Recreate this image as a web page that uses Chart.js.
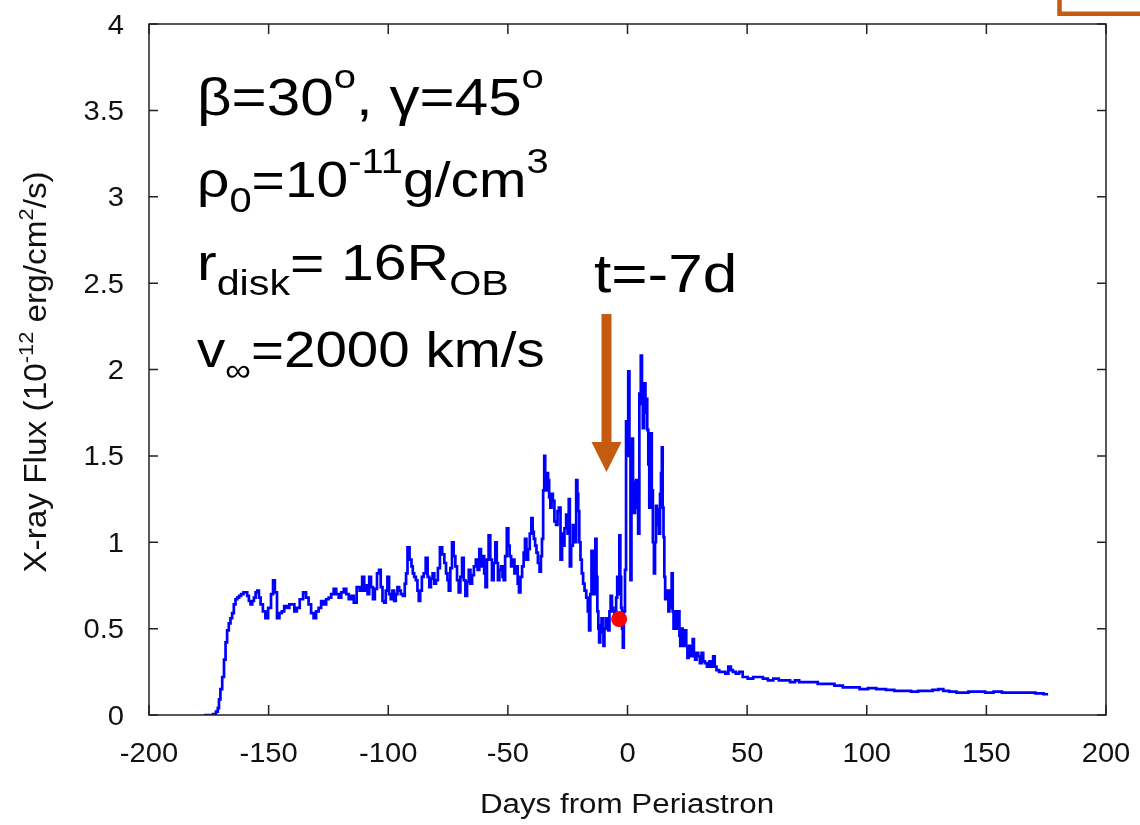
<!DOCTYPE html>
<html lang="en">
<head>
<meta charset="UTF-8">
<title>X-ray Flux vs Days from Periastron</title>
<script src="https://cdn.jsdelivr.net/npm/chart.js@4.4.0/dist/chart.umd.min.js"></script>
<style>
    body { margin: 0; background: #fff; }
    #wrap { width: 1140px; height: 825px; }
</style>
</head>
<body>
<div id="wrap"><canvas id="fluxChart"></canvas></div>
<script>
// light curve (days, flux in 1e-12 erg/cm2/s)
const days = [
  -177, -174, -172.5, -171.5, -171, -170.5, -169.8, -169, -168.3, -167.7, -167, -166.3, -165.6, -164.9,
  -164.2, -163.5, -162.7, -162, -161, -160, -159.3, -158.6, -157.9, -157.2, -156.5, -155.8, -155.1,
  -154.4, -153.7, -153, -151.8, -150.9, -149.5, -148.5, -147.8, -147, -146, -145, -144, -143, -141.9, -140.8, -139.8,
  -138.7, -137.7, -136.3, -134.9, -133.8, -132.8, -131.7, -130.7, -129.6, -128.6, -127.5, -126.5, -125.4,
  -124.4, -123.3, -122.3, -121.2, -120.2, -119.1, -118.1, -117, -116, -114.9, -113.9, -112.5, -111.4,
  -110.4, -109.7, -109, -108.3, -107.6, -106.8, -106, -105.2, -104.2, -103.5, -102.8, -102, -101.4, -100.7,
  -100, -99.3, -98.6, -97.9, -97.2, -96.5, -95.8, -95.1, -94.4, -93.4, -92.8, -92.3, -91.6, -90.6, -90,
  -89.5, -88.8, -88.1, -87.5, -87, -86.3, -85.6, -84.8, -83.9, -83.2, -82.5, -81.8, -81.1, -80.4, -79.7,
  -78.8, -78, -76.9, -76.2, -75.5, -75, -74.4, -73.7, -73, -72.3, -71.6, -70.9, -70.2, -69.5, -68.8, -68.1,
  -67.4, -66.7, -66, -65.3, -64.6, -63.8, -63, -62.3, -61.6, -60.9, -60.2, -59.6, -59.1, -58.4, -57.7, -57,
  -56.3, -55.6, -54.9, -54.4, -53.9, -53.2, -52.5, -52, -51.5, -50.8, -50.1, -49.5, -49, -48.3, -47.6, -46.9,
  -46.2, -45.6, -45.1, -44.4, -43.7, -43.1, -42.6, -41.9, -41.2, -40.5, -39.9, -39.4, -38.9, -38.3, -37.8,
  -37.1, -36.4, -36, -35.5, -35, -34.6, -34.2, -33.9, -33.4, -33, -32.5, -32, -31.5, -30.9, -30.2, -29.5,
  -29, -28.4, -27.6, -27.1, -26.7, -26, -25.3, -24.8, -24.3, -23.9, -23.2, -22.5, -21.8, -21.1, -20.8,
  -20.4, -19.9, -19.4, -18.8, -18.3, -17.6, -16.9, -16.3, -15.8, -15.3, -14.8, -14.3, -13.8, -13.1, -12.8,
  -12.4, -12, -11.7, -11.1, -10.6, -10.2, -9.9, -9.4, -8.9, -8.3, -7.8, -7.3, -6.8, -6.2, -5.7, -5.3, -5,
  -4.5, -4.1, -3.6, -3.2, -2.8, -2.5, -2.1, -1.8, -1.3, -0.8, -0.4, 0, 0.6, 1.0, 1.5, 1.8, 2.1, 2.5, 2.9,
  3.4, 3.8, 4.2, 4.7, 5.2, 5.9, 6.2, 6.6, 7.3, 7.7, 8.0, 8.5, 8.9, 9.3, 9.9, 10.4, 10.8, 11.3, 11.7, 12.1,
  12.5, 12.9, 13.4, 13.8, 14.2, 14.5, 14.9, 15.2, 15.6, 15.9, 16.4, 16.9, 17.3, 17.7, 18.2, 18.7, 19.1,
  19.4, 20, 20.5, 21, 21.5, 21.9, 22.2, 22.8, 23.3, 23.8, 24.3, 24.8, 25.3, 25.8, 26.4, 27, 27.5, 28, 28.5,
  29.2, 29.9, 30.6, 31.3, 32, 32.7, 33.7, 34.8, 35.5, 36.1, 36.8, 37.6, 39, 40.3, 41.5, 42.8, 43.6, 44.5,
  46, 47.3, 49, 51.5, 53.5, 55.7, 57.5, 59.9, 62, 64.5, 66.9, 69, 71, 72.5, 75, 78, 81, 85, 88, 92, 95, 99,
  102, 106, 110, 113, 117, 120, 123, 126, 129, 131, 133, 136, 139, 141, 144, 148, 151, 155, 158, 162, 165,
  169, 172, 175.8
];
const flux = [
  0, 0, 0.005, 0.02, 0.04, 0.09, 0.15, 0.22, 0.32, 0.42, 0.49, 0.53, 0.56, 0.59,
  0.64, 0.67, 0.68, 0.69, 0.7, 0.71, 0.71, 0.69, 0.66, 0.64, 0.66, 0.68, 0.71,
  0.72, 0.68, 0.64, 0.6, 0.56, 0.62, 0.7, 0.78, 0.71, 0.56, 0.59, 0.6, 0.63, 0.62, 0.64, 0.64,
  0.6, 0.62, 0.67, 0.71, 0.68, 0.64, 0.59, 0.56, 0.6, 0.62, 0.66, 0.64, 0.67,
  0.68, 0.7, 0.73, 0.7, 0.68, 0.71, 0.73, 0.7, 0.67, 0.69, 0.65, 0.74, 0.72,
  0.8, 0.72, 0.75, 0.7, 0.8, 0.74, 0.67, 0.73, 0.82, 0.84, 0.74, 0.66, 0.65, 0.72,
  0.8, 0.7, 0.67, 0.72, 0.66, 0.7, 0.74, 0.72, 0.7, 0.69, 0.76, 0.82, 0.97, 0.9, 0.86,
  0.82, 0.8, 0.78, 0.72, 0.66, 0.72, 0.8, 0.82, 0.91, 0.8, 0.74, 0.79, 0.82, 0.76, 0.78,
  0.85, 0.97, 0.93, 0.88, 0.82, 0.78, 0.72, 0.85, 1.0, 0.92, 0.86, 0.78, 0.71, 0.8, 0.91, 0.78,
  0.69, 0.77, 0.84, 0.76, 0.81, 0.86, 0.9, 0.84, 0.96, 0.86, 0.92, 0.82, 0.74, 0.9, 1.04, 0.9,
  0.78, 0.88, 1.0, 0.88, 0.78, 0.84, 0.86, 0.8, 0.78, 0.92, 1.08, 0.98, 0.92, 0.86, 0.9, 0.82,
  0.86, 0.76, 0.71, 0.8, 0.86, 0.94, 1.02, 0.9, 0.96, 1.05, 1.14, 1.06, 1.02, 0.98, 0.94,
  0.88, 0.83, 0.92, 1.02, 1.3, 1.5, 1.38, 1.3, 1.4, 1.36, 1.26, 1.2, 1.28, 1.24, 1.12, 1.1,
  1.18, 1.2, 0.9, 1.05, 0.98, 1.08, 1.16, 1.05, 1.25, 0.86, 0.98, 1.1, 1.0, 1.36, 1.28,
  1.18, 1.0, 0.9, 0.82, 0.76, 0.72, 0.68, 0.6, 0.49, 0.7, 0.95, 0.8, 0.7, 1.02, 0.8,
  0.6, 0.5, 0.42, 0.52, 0.56, 0.48, 0.4, 0.5, 0.56, 0.52, 0.49, 0.6, 0.69, 0.62, 0.6, 0.54, 0.56,
  0.68, 0.8, 0.7, 1.04, 0.8, 0.62, 0.5, 0.39, 0.6, 0.84, 1.7, 1.5, 1.99, 1.55, 0.78, 1.2, 1.6, 1.35, 1.17,
  1.3, 1.36, 1.2, 1.05, 1.86, 2.08, 1.8, 1.66, 1.92, 1.75, 1.83, 1.65, 1.45, 1.2, 1.63, 1.3, 1.0, 0.82, 1.0, 1.21,
  1.1, 1.19, 1.05, 1.28, 1.4, 1.55, 1.2, 1.03, 0.8, 0.67, 0.72, 0.67, 0.6, 0.72, 0.62, 0.82, 0.6,
  0.5, 0.56, 0.6, 0.5, 0.6, 0.46, 0.4, 0.5, 0.46, 0.4, 0.49, 0.4, 0.33, 0.4, 0.38, 0.34, 0.44, 0.36, 0.32,
  0.36, 0.34, 0.3, 0.36, 0.31, 0.3, 0.28, 0.31, 0.28, 0.34, 0.28, 0.26, 0.25, 0.25, 0.24, 0.28, 0.26, 0.25,
  0.24, 0.25, 0.22, 0.21, 0.22, 0.22, 0.21, 0.2, 0.21, 0.2, 0.2, 0.19, 0.2, 0.19, 0.19, 0.19, 0.18, 0.18, 0.17, 0.16, 0.16, 0.15,
  0.155, 0.15, 0.145, 0.14, 0.14, 0.135, 0.14, 0.14, 0.145, 0.15, 0.14, 0.135, 0.13, 0.13, 0.135, 0.135, 0.13, 0.135, 0.13, 0.13, 0.13,
  0.13, 0.125, 0.12
];
// red marker on the curve just below the arrow
const markerDay = [-3.5];
const markerFlux = [0.555];

const xTicks = [-200, -150, -100, -50, 0, 50, 100, 150, 200];
const yTicks = [0, 0.5, 1, 1.5, 2, 2.5, 3, 3.5, 4];
const yTickLabels = ['0', '0.5', '1', '1.5', '2', '2.5', '3', '3.5', '4'];

const FAM = '"Liberation Sans", Arial, Helvetica, sans-serif';
const ORANGE = '#C55A11';

// draws a run of text pieces [text, size, raise] with a horizontal stretch
function richText(ctx, segs, x, y, align, sx, rotate, sy) {
    ctx.save();
    ctx.translate(x, y);
    if (rotate) ctx.rotate(-Math.PI / 2);
    ctx.scale(sx, sy || 1);
    ctx.textBaseline = 'alphabetic';
    ctx.textAlign = 'left';
    let w = 0;
    segs.forEach(s => { ctx.font = s[1] + 'px ' + FAM; w += ctx.measureText(s[0]).width; });
    let cx = align === 'center' ? -w / 2 : (align === 'right' ? -w : 0);
    segs.forEach(s => {
        ctx.font = s[1] + 'px ' + FAM;
        ctx.fillText(s[0], cx, -(s[2] || 0));
        cx += ctx.measureText(s[0]).width;
    });
    ctx.restore();
}

const decorations = {
    id: 'decorations',
    afterDraw(chart) {
        const ctx = chart.ctx;
        const a = chart.chartArea;
        const xs = chart.scales.x, ys = chart.scales.y;
        ctx.save();
        // frame
        ctx.strokeStyle = '#222';
        ctx.lineWidth = 1.5;
        ctx.strokeRect(a.left, a.top, a.right - a.left, a.bottom - a.top);
        // inward ticks, all four sides
        ctx.beginPath();
        xTicks.forEach(v => {
            const px = xs.getPixelForValue(v);
            ctx.moveTo(px, a.bottom); ctx.lineTo(px, a.bottom - 10);
            ctx.moveTo(px, a.top); ctx.lineTo(px, a.top + 10);
        });
        yTicks.forEach(v => {
            const py = ys.getPixelForValue(v);
            ctx.moveTo(a.left, py); ctx.lineTo(a.left + 9, py);
            ctx.moveTo(a.right, py); ctx.lineTo(a.right - 9, py);
        });
        ctx.stroke();

        ctx.fillStyle = '#111';
        // tick labels
        xTicks.forEach(v => {
            richText(ctx, [[String(v), 27]], xs.getPixelForValue(v), 762, 'center', 1.08);
        });
        yTicks.forEach((v, i) => {
            richText(ctx, [[yTickLabels[i], 27]], 124, ys.getPixelForValue(v) + 9.5, 'right', 1.08);
        });
        // axis titles
        richText(ctx, [['Days from Periastron', 27]], 627, 813, 'center', 1.16);
        richText(ctx, [['X-ray Flux (10', 29], ['-12', 19, 12], [' erg/cm', 29], ['2', 19, 12], ['/s)', 29]],
            46, 372, 'center', 1.15, true, 1.05);

        // parameter block
        ctx.fillStyle = '#000';
        richText(ctx, [['\u03b2=30', 51], ['o', 34, 27], [', \u03b3=45', 51], ['o', 34, 27]], 197, 115, 'left', 1.18);
        richText(ctx, [['\u03c1', 50], ['0', 35, -15], ['=10', 50], ['-11', 35, 24], ['g/cm', 50], ['3', 35, 24]], 197, 197, 'left', 1.14);
        richText(ctx, [['r', 50], ['disk', 35, -15], ['= 16R', 50], ['OB', 35, -15]], 197, 280, 'left', 1.18);
        richText(ctx, [['v', 50], ['\u221e', 32, -14], ['=2000 km/s', 50]], 197, 367, 'left', 1.13);
        richText(ctx, [['t=-7d', 54]], 594, 292, 'left', 1.15);

        // orange arrow
        ctx.fillStyle = ORANGE;
        ctx.fillRect(601.5, 314, 10, 130);
        ctx.beginPath();
        ctx.moveTo(591.5, 442); ctx.lineTo(621.5, 442); ctx.lineTo(606.5, 472);
        ctx.closePath();
        ctx.fill();
        // corner of the orange box at top right
        ctx.strokeStyle = ORANGE;
        ctx.lineWidth = 4.5;
        ctx.beginPath();
        ctx.moveTo(1059.5, 0); ctx.lineTo(1059.5, 13.8); ctx.lineTo(1140, 13.8);
        ctx.stroke();
        ctx.restore();
    }
};

new Chart(document.getElementById('fluxChart'), {
    type: 'scatter',
    data: {
        datasets: [{
            data: days.map((d, i) => ({x: d, y: flux[i]})),
            showLine: true,
            stepped: 'middle',
            borderColor: '#0000FF',
            borderWidth: 2.7,
            pointRadius: 0,
            order: 1
        }, {
            data: markerDay.map((d, i) => ({x: d, y: markerFlux[i]})),
            pointRadius: 8,
            pointBackgroundColor: '#FF0000',
            pointBorderWidth: 0,
            order: 0
        }]
    },
    options: {
        responsive: true,
        maintainAspectRatio: false,
        animation: false,
        layout: { padding: { top: 24, right: 34, left: 0, bottom: 0 } },
        plugins: { legend: { display: false }, tooltip: { enabled: false } },
        scales: {
            x: {
                type: 'linear', min: -200, max: 200,
                ticks: { display: false, stepSize: 50 },
                grid: { display: false }, border: { display: false },
                afterFit(s) { s.height = 110; }
            },
            y: {
                min: 0, max: 4,
                ticks: { display: false, stepSize: 0.5 },
                grid: { display: false }, border: { display: false },
                afterFit(s) { s.width = 149; }
            }
        }
    },
    plugins: [decorations]
});
</script>
</body>
</html>
